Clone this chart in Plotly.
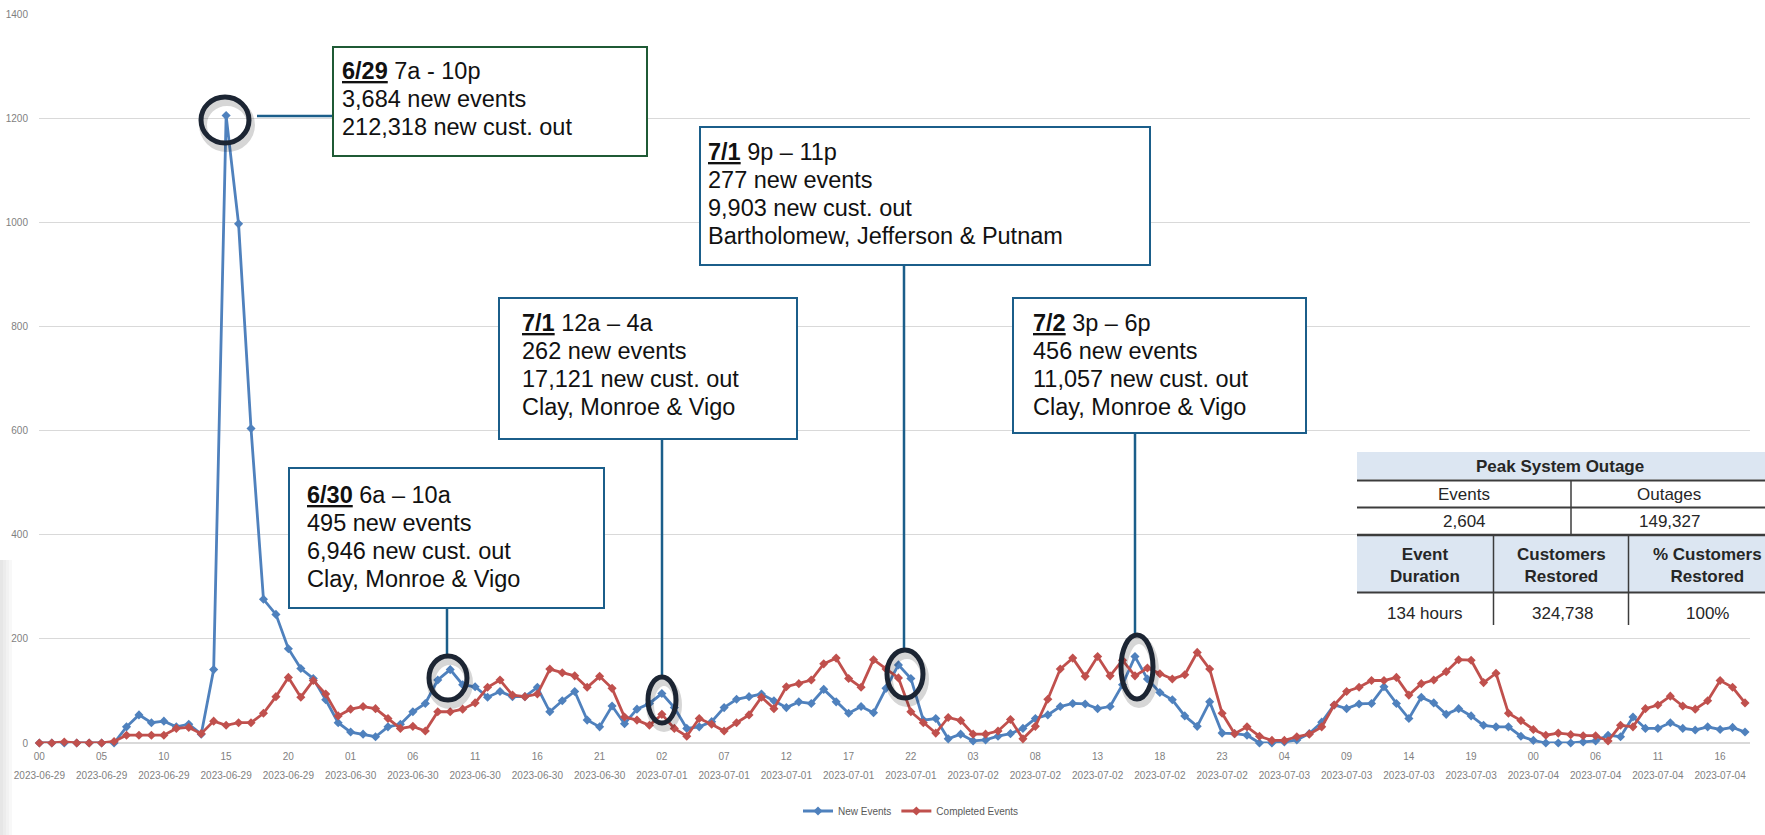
import plotly.graph_objects as go

# ---------------- data ----------------
days = ["2023-06-29", "2023-06-30", "2023-07-01", "2023-07-02", "2023-07-03", "2023-07-04"]
# hourly categories (hour 05 of 2023-07-04 is absent on the source axis; series ends at 18)
categories = [f"{d} {h:02d}" for d in days for h in range(24)
              if not (d == "2023-07-04" and (h == 5 or h > 18))]

new_events = [
    0, 0, 0, 0, 0, 0, 0, 31, 54, 39, 42, 31, 36, 17, 141, 1205, 997, 604, 276, 247, 181, 143, 124, 83,
    39, 21, 17, 12, 31, 36, 60, 76, 121, 141, 112, 108, 88, 99, 89, 89, 107, 60, 81, 99, 44, 31, 71, 37,
    65, 76, 95, 68, 28, 31, 41, 68, 84, 89, 94, 81, 68, 79, 76, 103, 79, 57, 70, 58, 105, 150, 124, 44,
    47, 8, 17, 4, 6, 13, 18, 28, 47, 54, 70, 76, 75, 66, 70, 112, 166, 123, 97, 83, 52, 32, 79, 19,
    18, 15, 0, 0, 2, 6, 18, 40, 73, 66, 75, 76, 108, 76, 47, 88, 77, 55, 66, 52, 34, 31, 31, 13,
    5, 0, 0, 0, 2, 4, 15, 12, 50, 28, 28, 39, 28, 25, 31, 26, 30, 21,
]
completed_events = [
    0, 0, 2, 0, 0, 0, 3, 15, 15, 15, 15, 28, 30, 18, 42, 34, 39, 39, 57, 89, 126, 88, 120, 94,
    52, 65, 70, 66, 47, 28, 32, 23, 60, 60, 65, 77, 107, 121, 92, 89, 94, 142, 135, 129, 107, 128, 105, 50,
    44, 34, 55, 28, 13, 47, 36, 23, 39, 54, 88, 66, 108, 114, 121, 152, 163, 124, 107, 160, 142, 125, 60, 39,
    19, 49, 43, 17, 17, 23, 45, 8, 32, 84, 142, 163, 128, 166, 129, 159, 129, 144, 133, 123, 131, 174, 142, 57,
    18, 31, 13, 5, 5, 12, 17, 31, 73, 99, 107, 120, 120, 126, 92, 114, 121, 137, 160, 159, 116, 134, 57, 43,
    26, 15, 19, 16, 14, 14, 4, 34, 31, 66, 73, 90, 71, 65, 81, 120, 107, 77,
]
assert len(categories) == len(new_events) == len(completed_events)

tick_vals = categories[::5]
tick_hours = [c[-2:] for c in tick_vals]
tick_dates = [c[:10] for c in tick_vals]

callouts = [
    ["<b><u>6/29</u></b> 7a - 10p", "3,684 new events", "212,318 new cust. out"],
    ["<b><u>6/30</u></b> 6a – 10a", "495 new events", "6,946 new cust. out", "Clay, Monroe &amp; Vigo"],
    ["<b><u>7/1</u></b> 12a – 4a", "262 new events", "17,121 new cust. out", "Clay, Monroe &amp; Vigo"],
    ["<b><u>7/1</u></b> 9p – 11p", "277 new events", "9,903 new cust. out",
     "Bartholomew, Jefferson &amp; Putnam"],
    ["<b><u>7/2</u></b> 3p – 6p", "456 new events", "11,057 new cust. out", "Clay, Monroe &amp; Vigo"],
]

table_title = "Peak System Outage"
table_head1 = ["Events", "Outages"]
table_row1 = ["2,604", "149,327"]
table_head2 = ["Event<br>Duration", "Customers<br>Restored", "% Customers<br>Restored"]
table_row2 = ["134 hours", "324,738", "100%"]

# ---------------- geometry (pixels) ----------------
FW, FH = 1765, 835
L, R, T, B = 39, 15, 14, 92
PW, PH = FW - L - R, FH - T - B


def px(x):
    return (x - L) / PW


def py(y):
    return (T + PH - y) / PH


BLUE = "#4f81bd"
RED = "#c0504d"
GRID = "#d9d9d9"
TICK = "#7f7f7f"
BOX_BLUE = "#1b5e8a"
BOX_GREEN = "#1f5a35"
RING = "#1c2533"
SANS = "Liberation Sans, Arial, sans-serif"

fig = go.Figure()
fig.add_trace(go.Scatter(
    x=categories, y=new_events, name="New Events", mode="lines+markers",
    line=dict(color=BLUE, width=2.8), marker=dict(symbol="diamond", size=7, color=BLUE),
    cliponaxis=False))
fig.add_trace(go.Scatter(
    x=categories, y=completed_events, name="Completed Events", mode="lines+markers",
    line=dict(color=RED, width=2.8), marker=dict(symbol="diamond", size=7, color=RED),
    cliponaxis=False))
# carrier trace for the second (date) tick row
fig.add_trace(go.Scatter(
    x=categories, y=new_events, xaxis="x2", mode="markers", marker=dict(opacity=0),
    showlegend=False, hoverinfo="skip"))

shapes = []
annotations = []


def rect(x0, y0, x1, y1, line_color=None, line_width=0, fill=None, layer="above"):
    shapes.append(dict(type="rect", xref="paper", yref="paper",
                       x0=px(x0), x1=px(x1), y0=py(y1), y1=py(y0),
                       line=dict(color=line_color or "rgba(0,0,0,0)", width=line_width),
                       fillcolor=fill or "rgba(0,0,0,0)", layer=layer))


def line(x0, y0, x1, y1, color, width):
    shapes.append(dict(type="line", xref="paper", yref="paper",
                       x0=px(x0), x1=px(x1), y0=py(y0), y1=py(y1),
                       line=dict(color=color, width=width), layer="above"))


def ring(cx, cy, rx, ry):
    shapes.append(dict(type="circle", xref="paper", yref="paper",
                       x0=px(cx - rx + 2), x1=px(cx + rx + 2), y0=py(cy + ry + 5), y1=py(cy - ry + 5),
                       line=dict(color="rgba(0,0,0,0.16)", width=8), layer="above"))
    shapes.append(dict(type="circle", xref="paper", yref="paper",
                       x0=px(cx - rx), x1=px(cx + rx), y0=py(cy + ry), y1=py(cy - ry),
                       line=dict(color=RING, width=5), layer="above"))


# slide edge shading on the left
for i, c in enumerate(["#e6e6e6", "#ececec", "#f2f2f2", "#f8f8f8"]):
    rect(i * 3, 560, i * 3 + 3, 835, fill=c, layer="below")

# callout boxes: (x0, y0, x1, y1, border colour, text left, first line centre)
boxes = [
    (333, 47, 647, 156, BOX_GREEN, 340, 71),
    (289, 468, 604, 608, BOX_BLUE, 305, 495),
    (499, 298, 797, 439, BOX_BLUE, 520, 323),
    (700, 127, 1150, 265, BOX_BLUE, 706, 152),
    (1013, 298, 1306, 433, BOX_BLUE, 1031, 323),
]
LINE_GAP = 28

# connectors
line(257, 116, 333, 116, BOX_BLUE, 2.5)
line(447, 608, 447, 656, BOX_BLUE, 2.5)
line(662, 439, 662, 677, BOX_BLUE, 2.5)
line(904, 265, 904, 650, BOX_BLUE, 2.5)
line(1135, 433, 1135, 635, BOX_BLUE, 2.5)

# highlight rings
ring(225, 120, 24, 23)
ring(448, 678, 19, 22)
ring(662, 700, 14, 23)
ring(905, 674, 18, 24)
ring(1137, 667, 16, 32)

for (x0, y0, x1, y1, col, tx, ty), lines in zip(boxes, callouts):
    rect(x0, y0, x1, y1, line_color=col, line_width=2, fill="white")
    for k, txt in enumerate(lines):
        annotations.append(dict(xref="paper", yref="paper", x=px(tx), y=py(ty + k * LINE_GAP),
                                xanchor="left", yanchor="middle", align="left", showarrow=False,
                                text=txt, font=dict(family=SANS, size=23.5, color="#111111")))

# ---------------- table ----------------
TX0, TX1 = 1357, 1770
rect(TX0, 452, TX1, 625, fill="white")
rect(TX0, 452, TX1, 479.5, fill="#dce6f2")
rect(TX0, 535.5, TX1, 592, fill="#dce6f2")
DARK = "#3c3c3c"
line(TX0, 480.5, TX1, 480.5, DARK, 2)
line(TX0, 507.5, TX1, 507.5, DARK, 2)
line(TX0, 535, TX1, 535, DARK, 2.5)
line(TX0, 592.5, TX1, 592.5, DARK, 2)
line(1571, 481, 1571, 535, DARK, 1.5)
line(1493.5, 536, 1493.5, 625, DARK, 1.5)
line(1628.5, 536, 1628.5, 625, DARK, 1.5)


def ttext(x, y, txt, bold=False, size=17):
    annotations.append(dict(xref="paper", yref="paper", x=px(x), y=py(y), xanchor="center",
                            yanchor="middle", showarrow=False,
                            text=f"<b>{txt}</b>" if bold else txt,
                            font=dict(family=SANS, size=size, color="#262626")))


ttext(1560, 466.5, table_title, bold=True)
for x, t in zip([1464, 1669], table_head1):
    ttext(x, 494.5, t)
for x, t in zip([1464, 1669], table_row1):
    ttext(x, 521, t)
for x, t in zip([1425, 1561, 1707], table_head2):
    ttext(x, 565.5, t, bold=True)
for x, t in zip([1425, 1562, 1707], table_row2):
    ttext(x, 613.5, t)

axis_common = dict(
    type="category", categoryorder="array", categoryarray=categories,
    range=[-0.03, 137.4], tickmode="array", tickvals=tick_vals,
    showgrid=False, zeroline=False, showline=False, ticks="",
    tickfont=dict(family=SANS, size=10, color=TICK),
)

fig.update_layout(
    width=FW, height=FH,
    margin=dict(l=L, r=R, t=T, b=B, autoexpand=False),
    paper_bgcolor="white", plot_bgcolor="white",
    showlegend=True,
    legend=dict(orientation="h", x=px(911), xanchor="center", y=py(811), yanchor="middle",
                font=dict(family=SANS, size=10, color="#595959"), bgcolor="rgba(0,0,0,0)",
                itemwidth=30),
    xaxis=dict(**axis_common, ticktext=tick_hours, ticklabelstandoff=6),
    xaxis2=dict(**axis_common, ticktext=tick_dates, overlaying="x", matches="x",
                anchor="y", side="bottom", ticklabelstandoff=25),
    yaxis=dict(range=[0, 1400], dtick=200, tick0=0, showgrid=True, gridcolor=GRID, gridwidth=1,
               zeroline=True, zerolinecolor=GRID, zerolinewidth=1.5, showline=False, ticks="",
               tickfont=dict(family=SANS, size=10, color=TICK), ticklabelstandoff=10),
    shapes=shapes,
    annotations=annotations,
)

fig.write_html("out.html", config={"displayModeBar": False},
               post_script="document.body.style.margin='0';")
